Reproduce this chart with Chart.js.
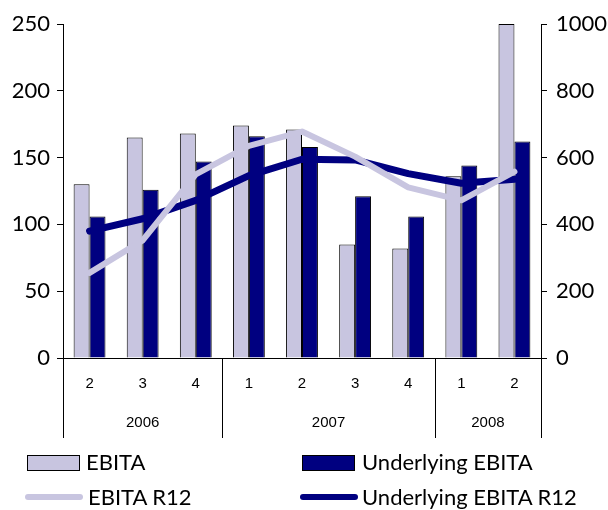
<!DOCTYPE html>
<html>
<head>
<meta charset="utf-8">
<script src="https://cdn.jsdelivr.net/npm/chart.js@4.4.0/dist/chart.umd.min.js"></script>
<style>
  body { margin: 0; background: #fff; }
  #wrap { position: relative; width: 608px; height: 510px; }
  .leg { position: absolute; font-family: Lato, sans-serif; font-size: 22px; color: #000; line-height: 1; white-space: nowrap; }
  .sw { position: absolute; }
</style>
</head>
<body>
<div id="wrap">
  <canvas id="graph" width="608" height="510"></canvas>
  <div class="sw" style="left:27px;top:455px;width:51px;height:14px;background:#c8c5e0;border:1px solid #000;"></div>
  <div class="leg" style="left:86px;top:451px;">EBITA</div>
  <div class="sw" style="left:302px;top:455px;width:51px;height:14px;background:#000080;border:1px solid #000;"></div>
  <div class="leg" style="left:362px;top:451px;">Underlying EBITA</div>
  <div class="sw" style="left:25px;top:494px;width:58px;height:6px;background:#c8c5e0;border-radius:3px;"></div>
  <div class="leg" style="left:88px;top:486px;">EBITA R12</div>
  <div class="sw" style="left:300px;top:494px;width:58px;height:6px;background:#000080;border-radius:3px;"></div>
  <div class="leg" style="left:362px;top:486px;">Underlying EBITA R12</div>
</div>
<script>
// Dados
const quarters = ['2', '3', '4', '1', '2', '3', '4', '1', '2'];
const years = ['2006', '2007', '2008'];
const yearGroups = [[0, 2], [3, 6], [7, 8]];
const ebita = [130, 165, 168, 174, 171, 85, 82, 136, 250];
const underlying = [106, 126, 147, 166, 158, 121, 106, 144, 162];
const ebitaR12 = [255, 352, 550, 635, 678, 603, 511, 472, 558];
const underlyingR12 = [380, 417, 472, 546, 595, 593, 552, 523, 535];

const light = '#c8c5e0';
const navy = '#000080';

// Linhas separadoras e rótulos dos anos
const yearPlugin = {
    id: 'years',
    afterDraw(chart) {
        const ctx = chart.ctx;
        const x = chart.scales.x;
        const area = chart.chartArea;
        ctx.save();
        ctx.strokeStyle = '#000';
        ctx.lineWidth = 1;
        const edges = [area.left, area.right];
        for (let i = 1; i < yearGroups.length; i++) {
            const a = x.getPixelForValue(yearGroups[i][0] - 1);
            const b = x.getPixelForValue(yearGroups[i][0]);
            edges.push((a + b) / 2);
        }
        edges.forEach(e => {
            ctx.beginPath();
            ctx.moveTo(Math.round(e) + 0.5, area.bottom);
            ctx.lineTo(Math.round(e) + 0.5, area.bottom + 80);
            ctx.stroke();
        });
        ctx.fillStyle = '#000';
        ctx.font = '15px "Liberation Sans"';
        ctx.textAlign = 'center';
        ctx.textBaseline = 'middle';
        yearGroups.forEach((g, i) => {
            const cx = (x.getPixelForValue(g[0]) + x.getPixelForValue(g[1])) / 2;
            ctx.fillText(years[i], cx, area.bottom + 65);
        });
        ctx.restore();
    }
};

const ctxGrafico = document.getElementById('graph').getContext('2d');
new Chart(ctxGrafico, {
    type: 'bar',
    data: {
        labels: quarters,
        datasets: [
            { label: 'EBITA R12', type: 'line', data: ebitaR12, yAxisID: 'y1', borderColor: light, borderWidth: 6, pointRadius: 0, tension: 0, borderCapStyle: 'round', borderJoinStyle: 'round', order: 1 },
            { label: 'Underlying EBITA R12', type: 'line', data: underlyingR12, yAxisID: 'y1', borderColor: navy, borderWidth: 7, pointRadius: 0, tension: 0, borderCapStyle: 'round', borderJoinStyle: 'round', order: 2 },
            { label: 'EBITA', data: ebita, yAxisID: 'y', backgroundColor: light, borderColor: '#000', borderWidth: 1, categoryPercentage: 0.6, barPercentage: 1.0, order: 3 },
            { label: 'Underlying EBITA', data: underlying, yAxisID: 'y', backgroundColor: navy, borderColor: '#000', borderWidth: 1, categoryPercentage: 0.6, barPercentage: 1.0, order: 4 }
        ]
    },
    options: {
        responsive: false,
        animation: false,
        layout: { padding: { top: 24, left: 0, right: 0, bottom: 0 } },
        plugins: { legend: { display: false }, tooltip: { enabled: false } },
        scales: {
            x: {
                grid: { display: false, drawTicks: false },
                border: { display: true, color: '#000' },
                ticks: { color: '#000', font: { family: 'Liberation Sans', size: 15 }, padding: 17, maxRotation: 0 },
                afterFit(s) { s.height = 152; }
            },
            y: {
                position: 'left', min: 0, max: 250,
                grid: { drawOnChartArea: false, tickLength: 6, color: '#000' },
                border: { display: true, color: '#000' },
                ticks: { stepSize: 50, color: '#000', font: { family: 'Lato', size: 22 }, padding: 7 },
                afterFit(s) { s.width = 63; }
            },
            y1: {
                position: 'right', min: 0, max: 1000,
                grid: { drawOnChartArea: false, tickLength: 6, color: '#000' },
                border: { display: true, color: '#000' },
                ticks: { stepSize: 200, color: '#000', font: { family: 'Lato', size: 22 }, padding: 9, callback: v => String(v) },
                afterFit(s) { s.width = 67; }
            }
        }
    },
    plugins: [yearPlugin]
});
</script>
</body>
</html>
